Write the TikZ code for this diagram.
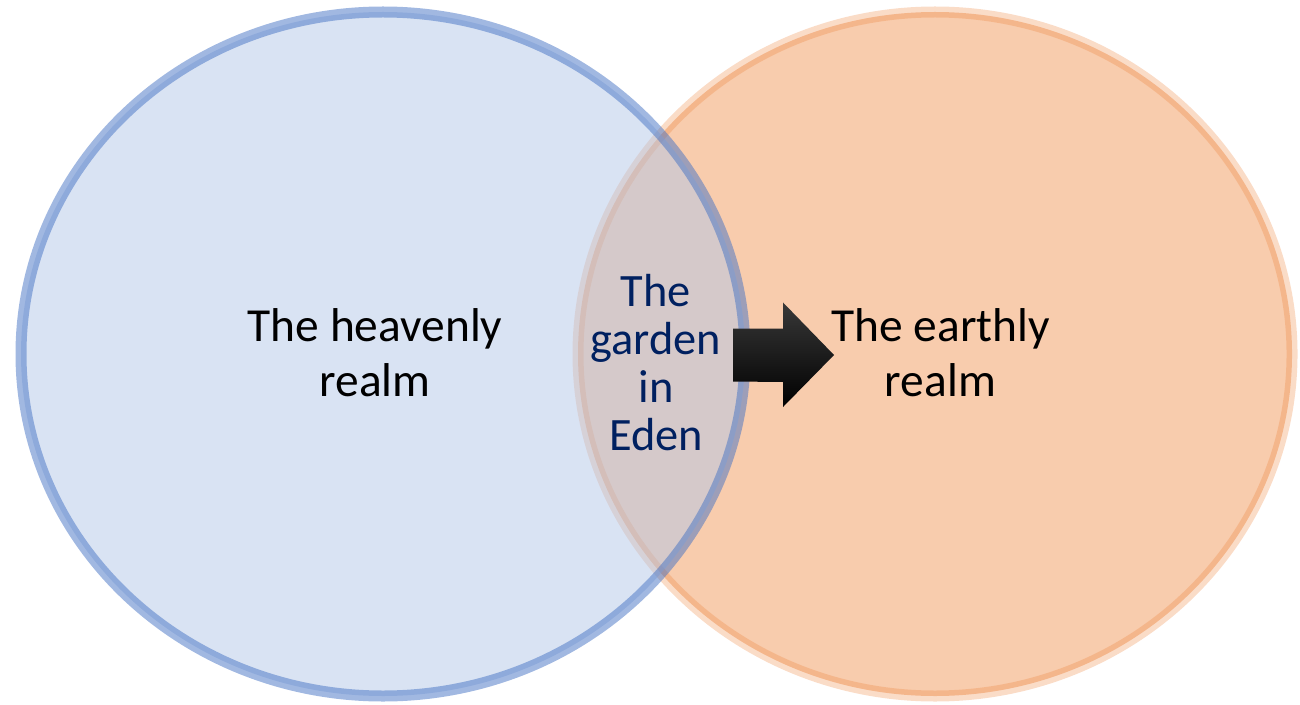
\documentclass[tikz,border=0pt]{standalone}
\usepackage{fontspec}
\setmainfont{Carlito}
\usepackage{xcolor}
\usepackage{tikz}
\usetikzlibrary{positioning}
\definecolor{kblue}{HTML}{4472C4}
\definecolor{kbluefill}{HTML}{B4C7E7}
\definecolor{korange}{HTML}{ED7D31}
\definecolor{korangefill}{HTML}{F4B183}
\definecolor{knavy}{HTML}{002060}

\begin{document}
\begin{tikzpicture}
\tikzstyle{realm}=[font=\fontsize{13.5}{15.65}\selectfont, align=center, text=black, inner sep=0pt]
\tikzstyle{garden}=[font=\fontsize{13.2}{13.66}\selectfont, align=center, text=knavy, inner sep=0pt]
\tikzstyle{ring}=[line width=0.11cm]

\useasboundingbox (0,0) rectangle (13,7.04);

\draw[ring, draw=korange, draw opacity=0.27, fill=korangefill, fill opacity=0.66] (9.35,3.50) ellipse [x radius=3.57, y radius=3.42];
\draw[ring, draw=kblue, draw opacity=0.5, fill=kbluefill, fill opacity=0.5] (3.83,3.50) ellipse [x radius=3.62, y radius=3.42];

\node[realm] (heaven) at (3.75,3.515) {The heavenly\\realm};
\node[realm] (earth) at (9.405,3.515) {The earthly\\realm};
\node[garden] (eden) at (6.56,3.41) {The\\garden\\in\\Eden};

\coordinate (tail) at (7.33,3.49);
\shade[top color=black!78, middle color=black, bottom color=black]
  (tail) ++(0,0.265) -- ++(0.50,0) -- ++(0,0.26) -- (8.34,3.49) -- (7.83,2.97) -- ++(0,0.25) -- (7.33,3.225) -- cycle;
\end{tikzpicture}
\end{document}
